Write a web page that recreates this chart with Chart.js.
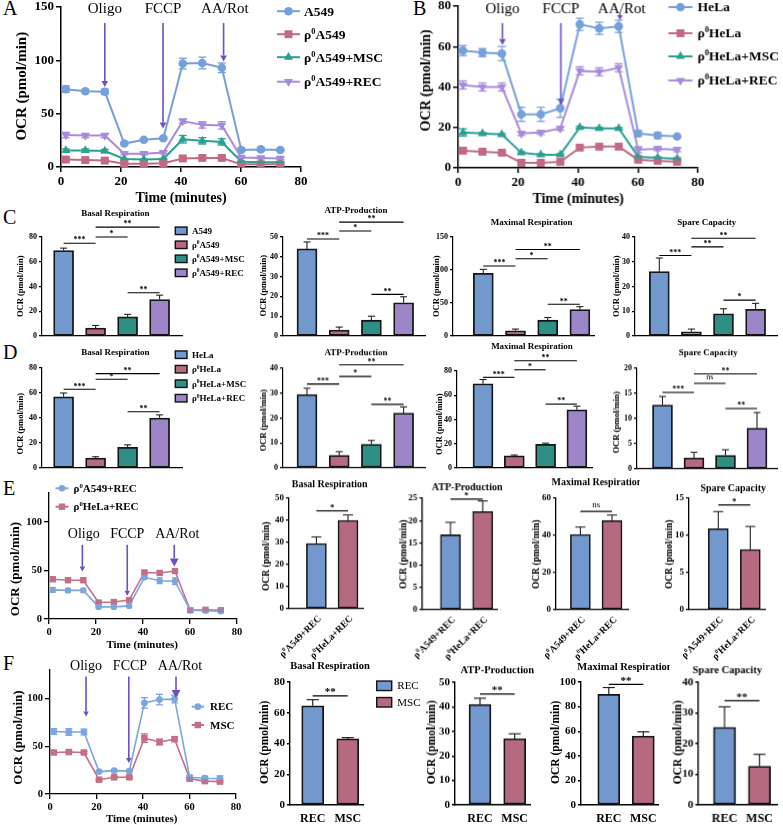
<!DOCTYPE html>
<html>
<head>
<meta charset="utf-8">
<script src="https://cdn.jsdelivr.net/npm/chart.js@4.4.0/dist/chart.umd.min.js"></script>
<style>
  body { margin: 0; width: 783px; height: 825px; background: #fff; position: relative; overflow: hidden; }
  canvas { position: absolute; }
  .tag { position: absolute; font: 20px "Liberation Serif", "Times New Roman", serif; line-height: 20px; }
</style>
</head>
<body>
<div class="tag" style="left:3px;top:-2px">A</div>
<div class="tag" style="left:413px;top:-2px">B</div>
<div class="tag" style="left:3px;top:207px">C</div>
<div class="tag" style="left:3px;top:342px">D</div>
<div class="tag" style="left:3px;top:478px">E</div>
<div class="tag" style="left:3px;top:653px">F</div>
<script>
const SERIF = '"Liberation Serif", "Times New Roman", serif';

// time points of the seahorse runs (minutes)
const minutes = [1.6, 8.1, 14.6, 21.1, 27.6, 34.1, 40.6, 47.1, 53.6, 60.1, 66.6, 73.1];

// panel A
const aNames = ['A549', 'ρ⁰A549', 'ρ⁰A549+MSC', 'ρ⁰A549+REC'];
const a549 = [73, 71, 70.5, 22, 25.5, 27, 97, 97.5, 93, 16, 16.5, 16];
const a549Err = [3, 1.5, 2.5, 1, 1, 1, 5, 5.5, 4.5, 1.5, 1.5, 1];
const rhoA549 = [7, 6.5, 6, 3, 3, 3.5, 8, 8.5, 8.5, 2.5, 2.5, 2.5];
const rhoA549Err = [1, 1, 1, 0.5, 0.5, 0.5, 1, 1, 1, 0.5, 0.5, 0.5];
const rhoA549Msc = [15.5, 15.5, 15, 7.5, 7, 7.5, 26, 24.5, 23.5, 5, 4.5, 4.5];
const rhoA549MscErr = [1.5, 1.5, 1.5, 0.5, 0.5, 0.5, 3.5, 3, 3, 0.5, 0.5, 0.5];
const rhoA549Rec = [30, 29.5, 29.5, 12.5, 12.5, 13.5, 43, 39.5, 39, 9, 8.5, 8];
const rhoA549RecErr = [2.5, 2, 2, 1, 1, 1, 2, 3, 3.5, 1, 1, 1];

// panel B
const bNames = ['HeLa', 'ρ⁰HeLa', 'ρ⁰HeLa+MSC', 'ρ⁰HeLa+REC'];
const hela = [58, 57, 56.5, 26.5, 26.5, 29.5, 71, 69, 70, 17, 16, 15.5];
const helaErr = [2.5, 2, 3.5, 3.5, 3.5, 4.5, 3, 3, 3, 1.5, 1.5, 0.5];
const rhoHela = [8.5, 8, 7.5, 2.5, 2.5, 3, 10, 10.5, 10.5, 4, 3.5, 3];
const rhoHelaErr = [0.8, 0.5, 0.5, 0.5, 0.5, 0.5, 0.8, 0.5, 0.5, 0.5, 0.5, 0.5];
const rhoHelaMsc = [17.5, 17, 16.5, 7.5, 6.5, 6.5, 20, 19.5, 19.5, 5.5, 5, 4.5];
const rhoHelaMscErr = [1.8, 0.5, 0.5, 0.5, 0.5, 0.5, 0.5, 0.5, 0.5, 0.5, 0.5, 0.5];
const rhoHelaRec = [41, 40, 40, 17, 17.5, 19.5, 48, 47.5, 49.5, 9, 9.5, 9];
const rhoHelaRecErr = [2, 2, 2, 1, 1, 1, 2, 2, 2, 1.5, 1, 1];

// panel F line
const fNames = ['REC', 'MSC'];
const rec = [65.5, 65, 65, 23.5, 24.5, 24, 95.5, 99, 99.5, 17.5, 16.5, 16];
const recErr = [3, 3.5, 3, 1, 1, 1, 5.5, 5.5, 4, 2, 2, 3];
const msc = [43.5, 44, 43.5, 15, 17.5, 17.5, 58.5, 54.5, 57.5, 16, 13.5, 13];
const mscErr = [1, 1, 1, 1, 1, 1, 4.5, 3, 2.5, 1, 1, 1];

// bar panels C and D
const cLabels = ['A549', 'ρ⁰A549', 'ρ⁰A549+MSC', 'ρ⁰A549+REC'];
const cBasal = [69, 6.5, 15.5, 29.5];     const cBasalErr = [2, 2, 2, 3.5];
const cAtp = [44, 3, 8, 16.8];            const cAtpErr = [3.5, 1.5, 2, 3];
const cMax = [95, 8, 24, 40];             const cMaxErr = [6, 2.5, 4, 4.5];
const cSpare = [26, 1.7, 9, 10.8];        const cSpareErr = [5.5, 1.1, 2, 2.4];
const dLabels = ['HeLa', 'ρ⁰HeLa', 'ρ⁰HeLa+MSC', 'ρ⁰HeLa+REC'];
const dBasal = [57, 8, 16.5, 40];         const dBasalErr = [3, 1, 2, 2.5];
const dAtp = [29.5, 5, 9.5, 22];          const dAtpErr = [2.5, 1.5, 1.5, 2.5];
const dMax = [69.5, 10, 19.5, 48];        const dMaxErr = [3.5, 0.7, 1, 3];
const dSpare = [12.7, 2.2, 2.7, 8.1];     const dSpareErr = [1.7, 1.1, 1.1, 3.1];

// bar panels E and F
const eLabels = ['ρ⁰A549+REC', 'ρ⁰HeLa+REC'];
const eBasal = [29.5, 40];   const eBasalErr = [3, 2.5];
const eAtp = [16.8, 22];     const eAtpErr = [2.8, 2.4];
const eMax = [40.5, 48];     const eMaxErr = [4, 3];
const eSpare = [10.9, 8.1];  const eSpareErr = [2.3, 3.1];
const fLabels = ['REC', 'MSC'];
const fBasal = [64.5, 43];   const fBasalErr = [4, 0.8];
const fAtp = [41, 27];       const fAtpErr = [2.5, 2];
const fMax = [90, 56];       const fMaxErr = [5.5, 3.5];
const fSpare = [25.3, 12.6]; const fSpareErr = [6.7, 3.9];

// colours
const LBLUE = '#76a0dc', LPINK = '#c26a84', LTEAL = '#2aa091', LPURP = '#a78bdc';
const BAR4 = ['#7398cd', '#b66a80', '#2e8f85', '#9c86c8'];
const BAR2 = ['#7398cd', '#b66a80'];
const ARROW = '#6b4fc6';

Chart.defaults.font.family = SERIF;

function mount(box) {
  const c = document.createElement('canvas');
  c.width = box.w; c.height = box.h;
  c.style.left = box.x + 'px'; c.style.top = box.y + 'px';
  c.style.width = box.w + 'px'; c.style.height = box.h + 'px';
  document.body.appendChild(c);
  return c;
}

function seg(ctx, x1, y1, x2, y2) {
  ctx.beginPath(); ctx.moveTo(x1, y1); ctx.lineTo(x2, y2); ctx.stroke();
}

// text with ⁰ drawn as a real superscript; cy is the vertical centre
function rich(ctx, s, x, cy, size, weight, align) {
  const segs = [];
  s.split('⁰').forEach((p, i) => {
    if (i > 0) segs.push({ t: '0', sup: true });
    if (p) segs.push({ t: p, sup: false });
  });
  const font = sup => `${weight} ${sup ? size * 0.62 : size}px ${SERIF}`;
  let w = 0;
  segs.forEach(g => { ctx.font = font(g.sup); g.w = ctx.measureText(g.t).width; w += g.w; });
  let cx = align === 'center' ? x - w / 2 : align === 'right' ? x - w : x;
  ctx.textAlign = 'left'; ctx.textBaseline = 'alphabetic';
  const base = cy + size * 0.33;
  segs.forEach(g => {
    ctx.font = font(g.sup);
    ctx.fillText(g.t, cx, base - (g.sup ? size * 0.38 : 0));
    cx += g.w;
  });
}

function vtext(ctx, s, cx, cy, size) {
  ctx.save();
  ctx.translate(cx, cy); ctx.rotate(-Math.PI / 2);
  ctx.font = `bold ${size}px ${SERIF}`;
  ctx.textAlign = 'center'; ctx.textBaseline = 'middle';
  ctx.fillText(s, 0, 0);
  ctx.restore();
}

function marker(ctx, style, x, y, r) {
  ctx.beginPath();
  if (style === 'circle') {
    ctx.arc(x, y, r, 0, Math.PI * 2);
  } else if (style === 'rect') {
    const h = r * Math.SQRT1_2;
    ctx.rect(x - h, y - h, 2 * h, 2 * h);
  } else {
    let a = style === 'tridown' ? Math.PI : 0;
    for (let k = 0; k < 3; k++) {
      const px = x + Math.sin(a) * r, py = y - Math.cos(a) * r;
      k ? ctx.lineTo(px, py) : ctx.moveTo(px, py);
      a += Math.PI * 2 / 3;
    }
    ctx.closePath();
  }
  ctx.fill();
}

function yScale(max, step, size, aw, tl) {
  return {
    type: 'linear', min: 0, max: max,
    ticks: { stepSize: step, includeBounds: false, color: '#000', padding: 2,
             font: { family: SERIF, size: size, weight: 'bold' } },
    grid: { drawOnChartArea: false, drawTicks: true, tickLength: tl, color: '#000', lineWidth: aw },
    border: { display: true, color: '#000', width: aw }
  };
}

// ---------------- line charts ----------------
function lineChart(o) {
  const box = { x: o.l - 52, y: o.t - 25, w: o.r - o.l + 52 + o.extraR, h: o.b - o.t + 25 + o.extraB };
  const cv = mount(box);
  const ys = yScale(o.ymax, o.ystep, o.tick, o.aw, 5);
  ys.afterFit = s => { s.width = o.l - box.x; };
  return new Chart(cv, {
    type: 'line',
    data: {
      datasets: o.series.map(s => ({
        data: s.values.map((v, i) => ({ x: minutes[i], y: v })),
        borderColor: s.color, backgroundColor: s.color, borderWidth: o.lw,
        pointStyle: s.style === 'tridown' ? 'triangle' : s.style,
        pointRotation: s.style === 'tridown' ? 180 : 0,
        pointRadius: s.r, pointBorderWidth: 0, pointBackgroundColor: s.color,
        tension: 0, fill: false
      }))
    },
    options: {
      responsive: false, animation: false, events: [],
      layout: { padding: { left: 0, top: o.t - box.y, right: box.x + box.w - o.r, bottom: 0 } },
      plugins: { legend: { display: false }, tooltip: { enabled: false } },
      scales: {
        x: {
          type: 'linear', min: 0, max: 80,
          ticks: { stepSize: 20, color: '#000', padding: 2, maxRotation: 0,
                   font: { family: SERIF, size: o.tick, weight: 'bold' } },
          grid: { drawOnChartArea: false, drawTicks: true, tickLength: 5, color: '#000', lineWidth: o.aw },
          border: { display: true, color: '#000', width: o.aw },
          afterFit: s => { s.height = box.y + box.h - o.b; }
        },
        y: ys
      }
    },
    plugins: [{ id: 'deco', afterDatasetsDraw: c => decoLine(c, o, box) }]
  });
}

function decoLine(c, o, box) {
  const ctx = c.ctx, X = c.scales.x, Y = c.scales.y;
  const ox = -box.x, oy = -box.y;
  ctx.save();
  o.series.forEach(s => {
    ctx.strokeStyle = s.color; ctx.lineWidth = 1.3;
    s.values.forEach((v, i) => {
      const e = s.errs[i];
      if (!e) return;
      const x = X.getPixelForValue(minutes[i]);
      const y0 = Y.getPixelForValue(v - e), y1 = Y.getPixelForValue(v + e);
      seg(ctx, x, y0, x, y1);
      seg(ctx, x - o.cap, y0, x + o.cap, y0);
      seg(ctx, x - o.cap, y1, x + o.cap, y1);
    });
  });
  // injection arrows
  o.arrows.forEach(a => {
    const x = X.getPixelForValue(a.t), y0 = Y.getPixelForValue(a.from), y1 = Y.getPixelForValue(a.to);
    ctx.strokeStyle = ARROW; ctx.fillStyle = ARROW; ctx.lineWidth = 1.6;
    seg(ctx, x, y0, x, y1 - a.head);
    ctx.beginPath();
    ctx.moveTo(x - a.head * 0.55, y1 - a.head); ctx.lineTo(x + a.head * 0.55, y1 - a.head); ctx.lineTo(x, y1);
    ctx.closePath(); ctx.fill();
    ctx.fillStyle = '#000';
    rich(ctx, a.label, X.getPixelForValue(a.lt), Y.getPixelForValue(o.labelY), o.labelSize, 'normal', 'center');
  });
  // legend
  const L = o.legend;
  o.series.forEach((s, i) => {
    const y = L.rows[i] + oy;
    ctx.strokeStyle = s.color; ctx.fillStyle = s.color; ctx.lineWidth = 2;
    seg(ctx, L.x1 + ox, y, L.x2 + ox, y);
    marker(ctx, s.style, (L.x1 + L.x2) / 2 + ox, y, s.r);
    ctx.fillStyle = '#000';
    rich(ctx, s.name, L.tx + ox, y, L.size, 'bold', 'left');
  });
  ctx.fillStyle = '#000';
  rich(ctx, 'Time (minutes)', o.xt.x + ox, o.xt.y + oy, o.xt.size, 'bold', 'center');
  vtext(ctx, 'OCR (pmol/min)', o.yt.x + ox, o.yt.y + oy, o.yt.size);
  ctx.restore();
}

// ---------------- bar charts ----------------
function barChart(o) {
  const box = { x: o.l - 52, y: o.t - 52, w: o.r - o.l + 52 + (o.extraR || 12), h: o.b - o.t + 52 + (o.extraB || 30) };
  const cv = mount(box);
  const xmin = -(o.c0 - o.l) / o.d, xmax = xmin + (o.r - o.l) / o.d;
  const ys = yScale(o.ymax, o.step, o.tick, o.aw, 3);
  ys.afterFit = s => { s.width = o.l - box.x; };
  return new Chart(cv, {
    type: 'bar',
    data: {
      datasets: [{
        data: o.values.map((v, i) => ({ x: i, y: v })),
        backgroundColor: o.colors, borderColor: '#151515', borderWidth: o.bw,
        borderSkipped: false, barThickness: o.bar
      }]
    },
    options: {
      responsive: false, animation: false, events: [],
      layout: { padding: { left: 0, top: o.t - box.y, right: box.x + box.w - o.r, bottom: 0 } },
      plugins: { legend: { display: false }, tooltip: { enabled: false } },
      scales: {
        x: {
          type: 'linear', min: xmin, max: xmax, offset: false,
          ticks: { display: false }, grid: { display: false, offset: false },
          border: { display: true, color: '#000', width: o.aw },
          afterFit: s => { s.height = box.y + box.h - o.b; }
        },
        y: ys
      }
    },
    plugins: [{ id: 'deco', afterDatasetsDraw: c => decoBar(c, o, box) }]
  });
}

function decoBar(c, o, box) {
  const ctx = c.ctx, X = c.scales.x, Y = c.scales.y;
  const ox = -box.x, oy = -box.y;
  ctx.save();
  ctx.strokeStyle = '#222'; ctx.lineWidth = o.ew;
  o.values.forEach((v, i) => {
    const x = X.getPixelForValue(i);
    const y0 = Y.getPixelForValue(v), y1 = Y.getPixelForValue(v + o.errs[i]);
    seg(ctx, x, y0, x, y1);
    seg(ctx, x - o.cap, y1, x + o.cap, y1);
  });
  ctx.strokeStyle = '#000'; ctx.fillStyle = '#000'; ctx.lineWidth = o.sw;
  o.sig.forEach(([a, b, v, t]) => {
    const xa = X.getPixelForValue(a), xb = X.getPixelForValue(b), y = Y.getPixelForValue(v);
    seg(ctx, xa, y, xb, y);
    const ns = t === 'ns';
    ctx.font = `${ns ? 'normal' : 'bold'} ${o.sigSize}px ${SERIF}`;
    ctx.textAlign = 'center'; ctx.textBaseline = 'alphabetic';
    ctx.fillText(t, (xa + xb) / 2, y - (ns ? 4 : 1.5) + (ns ? 0 : o.sigSize * 0.1));
  });
  rich(ctx, o.title.s, o.title.x + ox, o.title.y + oy, o.title.size, 'bold', 'center');
  vtext(ctx, 'OCR (pmol/min)', o.yt.x + ox, o.yt.y + oy, o.yt.size);
  if (o.xlab === 'rot') {
    o.labels.forEach((s, i) => {
      ctx.save();
      ctx.translate(X.getPixelForValue(i) + 3, Y.getPixelForValue(0) + 8);
      ctx.rotate(-o.rot * Math.PI / 180);
      rich(ctx, s, 0, 0, o.xsize, 'bold', 'right');
      ctx.restore();
    });
  } else if (o.xlab === 'flat') {
    o.labels.forEach((s, i) => {
      rich(ctx, s, X.getPixelForValue(i), Y.getPixelForValue(0) + 13, o.xsize, 'bold', 'center');
    });
  }
  if (o.legend) {
    const L = o.legend;
    o.labels.forEach((s, i) => {
      const y = L.rows[i] + oy;
      ctx.fillStyle = o.colors[i];
      ctx.fillRect(L.x + ox, y - L.h / 2, L.w, L.h);
      ctx.strokeStyle = '#111'; ctx.lineWidth = 1.4;
      ctx.strokeRect(L.x + ox, y - L.h / 2, L.w, L.h);
      ctx.fillStyle = '#000';
      rich(ctx, s, L.tx + ox, y, L.size, L.weight, 'left');
    });
  }
  ctx.restore();
}

// ---------------- panel A / B ----------------
lineChart({
  l: 61, t: 6.8, r: 301, b: 167.3, ymax: 150, ystep: 50, tick: 13, aw: 1.5, lw: 2, cap: 4,
  extraR: 90, extraB: 42,
  series: [
    { name: aNames[0], values: a549, errs: a549Err, color: LBLUE, style: 'circle', r: 4.3 },
    { name: aNames[1], values: rhoA549, errs: rhoA549Err, color: LPINK, style: 'rect', r: 5.6 },
    { name: aNames[2], values: rhoA549Msc, errs: rhoA549MscErr, color: LTEAL, style: 'triangle', r: 5.2 },
    { name: aNames[3], values: rhoA549Rec, errs: rhoA549RecErr, color: LPURP, style: 'tridown', r: 5.2 }
  ],
  labelY: 149, labelSize: 15,
  arrows: [
    { label: 'Oligo', t: 14.6, lt: 14.6, from: 135, to: 75, head: 6 },
    { label: 'FCCP', t: 34, lt: 34, from: 135, to: 36, head: 6 },
    { label: 'AA/Rot', t: 54.2, lt: 54.6, from: 135, to: 99, head: 6 }
  ],
  legend: { x1: 277, x2: 300, tx: 304, rows: [11, 34, 57, 81.5], size: 13.5 },
  xt: { x: 181, y: 197, size: 14 }, yt: { x: 22, y: 86, size: 15 }
});

lineChart({
  l: 458.3, t: 6, r: 698.3, b: 167.7, ymax: 80, ystep: 20, tick: 13, aw: 1.5, lw: 2, cap: 4,
  extraR: 90, extraB: 42,
  series: [
    { name: bNames[0], values: hela, errs: helaErr, color: LBLUE, style: 'circle', r: 4.3 },
    { name: bNames[1], values: rhoHela, errs: rhoHelaErr, color: LPINK, style: 'rect', r: 5.6 },
    { name: bNames[2], values: rhoHelaMsc, errs: rhoHelaMscErr, color: LTEAL, style: 'triangle', r: 5.2 },
    { name: bNames[3], values: rhoHelaRec, errs: rhoHelaRecErr, color: LPURP, style: 'tridown', r: 5.2 }
  ],
  labelY: 79, labelSize: 15,
  arrows: [
    { label: 'Oligo', t: 14.8, lt: 14.8, from: 71.6, to: 60.8, head: 6 },
    { label: 'FCCP', t: 34.3, lt: 34.3, from: 71.6, to: 31, head: 6 },
    { label: 'AA/Rot', t: 54, lt: 54.6, from: 76.5, to: 73, head: 5 }
  ],
  legend: { x1: 668, x2: 692, tx: 697, rows: [7, 33, 56, 80], size: 13.5 },
  xt: { x: 578, y: 197, size: 14 }, yt: { x: 427, y: 80, size: 14 }
});

// ---------------- panel C ----------------
const cCommon = { tick: 8, aw: 1.2, bw: 1.8, bar: 20, ew: 1.1, cap: 3.5, sw: 1.1, sigSize: 8, colors: BAR4, labels: cLabels };
barChart(Object.assign({}, cCommon, {
  l: 41.7, t: 236.7, r: 181.7, b: 336, c0: 63.3, d: 32, ymax: 80, step: 20,
  values: cBasal, errs: cBasalErr, extraR: 70,
  sig: [[0, 1, 75, '***'], [1, 2, 80, '*'], [1, 3, 88, '**'], [2, 3, 35, '**']],
  title: { s: 'Basal Respiration', x: 115, y: 213, size: 9 }, yt: { x: 20.7, y: 286, size: 8.5 },
  legend: { x: 175, w: 11.7, h: 7.5, tx: 191.7, rows: [230.5, 244.5, 258.5, 272.5], size: 9, weight: 'bold' }
}));
barChart(Object.assign({}, cCommon, {
  l: 283, t: 237.3, r: 425, b: 336.5, c0: 307, d: 32.2, ymax: 50, step: 10,
  values: cAtp, errs: cAtpErr,
  sig: [[0, 1, 49, '***'], [1, 2, 53, '*'], [1, 3, 57.5, '**'], [2, 3, 21, '**']],
  title: { s: 'ATP-Production', x: 356, y: 210, size: 9 }, yt: { x: 263.3, y: 286, size: 8.5 }
}));
barChart(Object.assign({}, cCommon, {
  l: 453, t: 236.7, r: 594, b: 336, c0: 483.3, d: 32.2, ymax: 150, step: 50,
  values: cMax, errs: cMaxErr,
  sig: [[0, 1, 106, '***'], [1, 2, 117, '*'], [1, 3, 131, '**'], [2, 3, 48, '**']],
  title: { s: 'Maximal Respiration', x: 531.7, y: 221.7, size: 9 }, yt: { x: 436.7, y: 286, size: 8.5 }
}));
barChart(Object.assign({}, cCommon, {
  l: 635, t: 236.7, r: 777, b: 336, c0: 659.3, d: 32.1, ymax: 40, step: 10,
  values: cSpare, errs: cSpareErr,
  sig: [[0, 1, 32.5, '***'], [1, 2, 36, '**'], [1, 3, 39.5, '**'], [2, 3, 14.5, '*']],
  title: { s: 'Spare Capacity', x: 706.7, y: 221.7, size: 9 }, yt: { x: 616.7, y: 286, size: 8.5 }
}));

// ---------------- panel D ----------------
const dCommon = Object.assign({}, cCommon, { labels: dLabels });
barChart(Object.assign({}, dCommon, {
  l: 41.7, t: 368.3, r: 181.7, b: 468.3, c0: 63.3, d: 32, ymax: 80, step: 20,
  values: dBasal, errs: dBasalErr, extraR: 70,
  sig: [[0, 1, 63, '***'], [1, 2, 71, '*'], [1, 3, 75.5, '**'], [2, 3, 45, '**']],
  title: { s: 'Basal Respiration', x: 115, y: 352.3, size: 9 }, yt: { x: 20.7, y: 424, size: 8.5 },
  legend: { x: 175, w: 11.7, h: 7.5, tx: 191.7, rows: [355, 369.5, 384, 398.5], size: 9, weight: 'bold' }
}));
barChart(Object.assign({}, dCommon, {
  l: 283, t: 368.3, r: 425, b: 467.7, c0: 307, d: 32.2, ymax: 40, step: 10,
  values: dAtp, errs: dAtpErr,
  sig: [[0, 1, 33.7, '***'], [1, 2, 36.7, '*'], [1, 3, 41.4, '**'], [2, 3, 25.5, '**']],
  title: { s: 'ATP-Production', x: 356, y: 352.3, size: 9 }, yt: { x: 263.3, y: 420, size: 8.5 }
}));
barChart(Object.assign({}, dCommon, {
  l: 456.7, t: 370.7, r: 591.7, b: 468.3, c0: 482.7, d: 31.3, ymax: 80, step: 20,
  values: dMax, errs: dMaxErr,
  sig: [[0, 1, 74.8, '***'], [1, 2, 81, '*'], [1, 3, 88.5, '**'], [2, 3, 52.7, '**']],
  title: { s: 'Maximal Respiration', x: 531.7, y: 345.7, size: 9 }, yt: { x: 439.3, y: 424, size: 8.5 }
}));
barChart(Object.assign({}, dCommon, {
  l: 636.7, t: 368.3, r: 776.7, b: 469, c0: 662.2, d: 31.5, ymax: 20, step: 5,
  values: dSpare, errs: dSpareErr,
  sig: [[0, 1, 15.2, '***'], [1, 2, 17, 'ns'], [1, 3, 18.9, '**'], [2, 3, 12, '**']],
  title: { s: 'Spare Capacity', x: 708, y: 352.3, size: 9 }, yt: { x: 616.7, y: 422, size: 8.5 }
}));

// ---------------- panel E ----------------
lineChart({
  l: 48.5, t: 493, r: 236.5, b: 619.3, ymax: 130, ystep: 50, tick: 10.5, aw: 1.3, lw: 1.6, cap: 3,
  extraR: 40, extraB: 35,
  series: [
    { name: eLabels[0], values: rhoA549Rec, errs: rhoA549RecErr, color: '#7ea6de', style: 'circle', r: 3.2 },
    { name: eLabels[1], values: rhoHelaRec, errs: rhoHelaRecErr, color: '#c46e88', style: 'rect', r: 4.5 }
  ],
  labelY: 88.7, labelSize: 14,
  arrows: [
    { label: 'Oligo', t: 14.2, lt: 14.8, from: 76.6, to: 49, head: 5 },
    { label: 'FCCP', t: 33.3, lt: 33.3, from: 76.6, to: 24, head: 5 },
    { label: 'AA/Rot', t: 53.3, lt: 54.6, from: 76.6, to: 54.2, head: 8 }
  ],
  legend: { x1: 55, x2: 68, tx: 73, rows: [488.3, 506.7], size: 11 },
  xt: { x: 141.7, y: 644.3, size: 11 }, yt: { x: 15, y: 569, size: 13 }
});

const eCommon = { tick: 9, aw: 1.3, bw: 1.6, bar: 20, ew: 1.1, cap: 5, sw: 1.2, sigSize: 9, colors: BAR2, labels: eLabels, xlab: 'rot', rot: 45, xsize: 9.5, extraB: 55 };
barChart(Object.assign({}, eCommon, {
  l: 289.3, t: 498.3, r: 363.3, b: 609.3, c0: 316.7, d: 31.6, ymax: 50, step: 10,
  values: eBasal, errs: eBasalErr, sig: [[0, 1, 44.3, '*']],
  title: { s: 'Basal Respiration', x: 330, y: 484, size: 10 }, yt: { x: 266.7, y: 556, size: 9.5 }
}));
barChart(Object.assign({}, eCommon, {
  l: 422.3, t: 498.3, r: 496.7, b: 610, c0: 450.3, d: 32.2, ymax: 25, step: 5,
  values: eAtp, errs: eAtpErr, sig: [[0, 1, 24.8, '*']],
  title: { s: 'ATP-Production', x: 466.7, y: 486.7, size: 10 }, yt: { x: 404, y: 554, size: 9.5 }
}));
barChart(Object.assign({}, eCommon, {
  l: 555.7, t: 498.3, r: 628.3, b: 610, c0: 580.3, d: 31.9, ymax: 60, step: 20,
  values: eMax, errs: eMaxErr, sig: [[0, 1, 52.9, 'ns']],
  title: { s: 'Maximal Respiration', x: 596.7, y: 482.3, size: 10 }, yt: { x: 536.7, y: 554, size: 9.5 }
}));
barChart(Object.assign({}, eCommon, {
  l: 689, t: 498.3, r: 765, b: 610, c0: 718.3, d: 32, ymax: 15, step: 5,
  values: eSpare, errs: eSpareErr, sig: [[0, 1, 14.1, '*']],
  title: { s: 'Spare Capacity', x: 733.3, y: 487.7, size: 10 }, yt: { x: 669.5, y: 554, size: 9.5 }
}));

// ---------------- panel F ----------------
lineChart({
  l: 50, t: 670, r: 236, b: 794.3, ymax: 130, ystep: 50, tick: 10.5, aw: 1.3, lw: 1.6, cap: 3.5,
  extraR: 40, extraB: 32,
  series: [
    { name: fNames[0], values: rec, errs: recErr, color: '#7ea6de', style: 'circle', r: 3.4 },
    { name: fNames[1], values: msc, errs: mscErr, color: '#c46e88', style: 'rect', r: 4.6 }
  ],
  labelY: 134.8, labelSize: 14,
  arrows: [
    { label: 'Oligo', t: 15.5, lt: 15.5, from: 123.3, to: 81.3, head: 5 },
    { label: 'FCCP', t: 33.9, lt: 34.4, from: 123.3, to: 32.5, head: 5 },
    { label: 'AA/Rot', t: 54.2, lt: 55.9, from: 123.3, to: 100.6, head: 8 }
  ],
  legend: { x1: 191.7, x2: 204, tx: 210, rows: [706.7, 725], size: 11 },
  xt: { x: 141.7, y: 818.5, size: 11 }, yt: { x: 19, y: 737.5, size: 13 }
});

const fCommon = { tick: 11, aw: 1.4, bw: 1.8, bar: 22, ew: 1.2, cap: 6, sw: 1.3, sigSize: 11, colors: BAR2, labels: fLabels, xlab: 'flat', xsize: 12, extraB: 25 };
barChart(Object.assign({}, fCommon, {
  l: 290, t: 681.7, r: 363.3, b: 805, c0: 312.8, d: 35.2, ymax: 80, step: 20,
  values: fBasal, errs: fBasalErr, sig: [[0, 1, 71, '**']], extraR: 62,
  title: { s: 'Basal Respiration', x: 330, y: 665, size: 10.5 }, yt: { x: 265, y: 742, size: 11.5 },
  legend: { x: 376.7, w: 15, h: 9.5, tx: 397.3, rows: [685.5, 702], size: 11, weight: 'normal' }
}));
barChart(Object.assign({}, fCommon, {
  l: 455, t: 682.3, r: 530, b: 805, c0: 480, d: 34.7, ymax: 50, step: 10,
  values: fAtp, errs: fAtpErr, sig: [[0, 1, 45.2, '**']],
  title: { s: 'ATP-Production', x: 497.3, y: 670, size: 10.5 }, yt: { x: 431.7, y: 742, size: 11.5 }
}));
barChart(Object.assign({}, fCommon, {
  l: 581, t: 681.7, r: 658, b: 805, c0: 608.8, d: 34.5, ymax: 100, step: 20,
  values: fMax, errs: fMaxErr, sig: [[0, 1, 98, '**']],
  title: { s: 'Maximal Respiration', x: 625, y: 666.7, size: 10.5 }, yt: { x: 556, y: 742, size: 11.5 }
}));
barChart(Object.assign({}, fCommon, {
  l: 698, t: 682.3, r: 776.7, b: 805, c0: 724.2, d: 35, ymax: 40, step: 10,
  values: fSpare, errs: fSpareErr, sig: [[0, 1, 34, '**']],
  title: { s: 'Spare Capacity', x: 726.7, y: 670, size: 10.5 }, yt: { x: 678.5, y: 742, size: 11.5 }
}));
</script>
</body>
</html>
